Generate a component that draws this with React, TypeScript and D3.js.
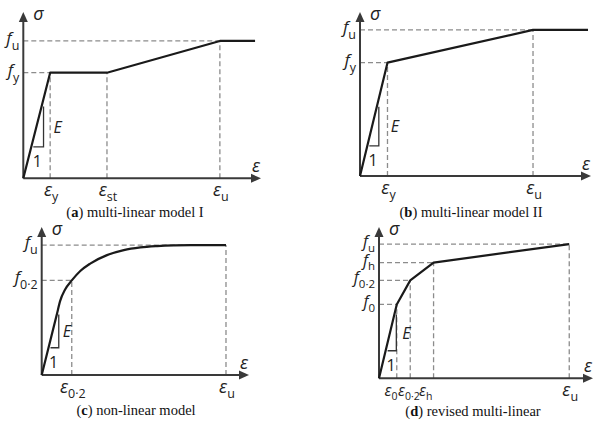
import React from "react";
import * as d3 from "d3";

// ---------- data (normalised strain / stress, 0..1 of axis length) ----------
// (a) multi-linear model I
const strainA = [0, 0.113, 0.352, 0.827, 0.975];
const stressA = [0, 0.635, 0.635, 0.826, 0.826];
const xTickA = [0.113, 0.352, 0.827];
const xTickStressA = [0.635, 0.635, 0.826];
const xTickSubA = ["y", "st", "u"];
const yTickA = [0.635, 0.826];
const yTickStrainA = [0.113, 0.827];
const yTickSubA = ["y", "u"];

// (b) multi-linear model II
const strainB = [0, 0.119, 0.749, 0.987];
const stressB = [0, 0.691, 0.891, 0.891];
const xTickB = [0.119, 0.749];
const xTickStressB = [0.691, 0.891];
const xTickSubB = ["y", "u"];
const yTickB = [0.691, 0.891];
const yTickStrainB = [0.119, 0.749];
const yTickSubB = ["y", "u"];

// (c) non-linear model
const strainC = [0, 0.0727, 0.0887, 0.113, 0.145, 0.186, 0.234, 0.315, 0.396, 0.476, 0.557, 0.638, 0.72, 0.889];
const stressC = [0, 0.408, 0.499, 0.578, 0.639, 0.703, 0.753, 0.81, 0.844, 0.862, 0.871, 0.876, 0.878, 0.878];
const xTickC = [0.145, 0.889];
const xTickStressC = [0.639, 0.878];
const xTickSubC = ["0·2", "u"];
const yTickC = [0.639, 0.878];
const yTickStrainC = [0.145, 0.889];
const yTickSubC = ["0·2", "u"];

// (d) revised multi-linear
const strainD = [0, 0.083, 0.146, 0.255, 0.889];
const stressD = [0, 0.488, 0.647, 0.765, 0.887];
const xTickD = [0.083, 0.146, 0.255, 0.889];
const xTickStressD = [0.488, 0.647, 0.765, 0.887];
const xTickSubD = ["0", "0·2", "h", "u"];
const yTickD = [0.488, 0.647, 0.765, 0.887];
const yTickStrainD = [0.083, 0.146, 0.255, 0.889];
const yTickSubD = ["0", "0·2", "h", "u"];

const captionLetters = ["a", "b", "c", "d"];
const captionTexts = [" multi-linear model I", " multi-linear model II", " non-linear model", " revised multi-linear"];

// ---------- layout ----------
type Layout = {
  ox: number; oy: number; tipX: number; topY: number;
  triTop: number; triBottom: number; eDx: number;
  capX: number; capY: number;
  xLabelX?: (number | null)[];
  epsSize?: number; subSize?: number;
  fSize?: number; fSub?: number; fDy?: number;
};

const layouts: Layout[] = [
  { ox: 23.3, oy: 178.3, tipX: 261, topY: 12, triTop: 0.431, triBottom: 0.189, eDx: 10, capX: 135, capY: 217 },
  { ox: 360, oy: 176, tipX: 591, topY: 12, triTop: 0.423, triBottom: 0.184, eDx: 12, capX: 471, capY: 217 },
  { ox: 41.7, oy: 375, tipX: 249, topY: 227, triTop: 0.408, triBottom: 0.184, eDx: 4, capX: 136, capY: 415 },
  {
    ox: 379, oy: 378.3, tipX: 593, topY: 227, triTop: 0.421, triBottom: 0.182, eDx: 6, capX: 473, capY: 416,
    xLabelX: [384.5, 398, 419, null], epsSize: 15.5, subSize: 10.5,
    fSize: 16, fSub: 11.5, fDy: 4.5,
  },
];

const SANS = "'Open Sans', 'DejaVu Sans', sans-serif";
const SERIF = "'Liberation Serif', 'DejaVu Serif', serif";
const AXIS = "#3a3a3a";
const DASH = "#8c8c8c";

type PanelProps = {
  idx: number;
  strain: number[]; stress: number[];
  xTick: number[]; xTickStress: number[]; xTickSub: string[];
  yTick: number[]; yTickStrain: number[]; yTickSub: string[];
  smooth?: boolean;
};

function Panel(p: PanelProps) {
  const L = layouts[p.idx];
  const x = d3.scaleLinear().domain([0, 1]).range([L.ox, L.tipX]);
  const y = d3.scaleLinear().domain([0, 1]).range([L.oy, L.topY]);
  const pts: [number, number][] = p.strain.map((e, i) => [e, p.stress[i]]);
  const line = d3
    .line<[number, number]>()
    .x((d) => x(d[0]))
    .y((d) => y(d[1]))
    .curve(p.smooth ? d3.curveMonotoneX : d3.curveLinear);

  // elastic slope triangle
  const e1 = p.strain[1], s1 = p.stress[1];
  const lineStrainAt = (s: number) => (e1 * s) / s1;
  const off = 2;
  const vx = x(lineStrainAt(L.triTop)) + off;
  const hy = y(L.triBottom);
  const hx0 = x(lineStrainAt(L.triBottom)) + off;
  const triMidY = (y(L.triTop) + hy) / 2;

  const epsSize = L.epsSize ?? 18;
  const subSize = L.subSize ?? 12.5;
  const fSize = L.fSize ?? 17;
  const fSub = L.fSub ?? 12.5;
  const fDy = L.fDy ?? 6;

  const ah = 10, aw = 4.5;
  return (
    <g>
      {/* dashed guides */}
      {p.xTick.map((e, i) => (
        <line key={"vx" + i} x1={x(e)} x2={x(e)} y1={L.oy} y2={y(p.xTickStress[i])}
          stroke={DASH} strokeWidth={1.3} strokeDasharray="5,3" />
      ))}
      {p.yTick.map((s, i) => (
        <line key={"hy" + i} x1={L.ox} x2={x(p.yTickStrain[i])} y1={y(s)} y2={y(s)}
          stroke={DASH} strokeWidth={1.3} strokeDasharray="5,3" />
      ))}
      {/* axes */}
      <line x1={L.ox} x2={L.tipX - ah + 1} y1={L.oy} y2={L.oy} stroke={AXIS} strokeWidth={2} />
      <line x1={L.ox} x2={L.ox} y1={L.oy} y2={L.topY + ah - 1} stroke={AXIS} strokeWidth={2} />
      <polygon points={`${L.tipX},${L.oy} ${L.tipX - ah},${L.oy - aw} ${L.tipX - ah},${L.oy + aw}`} fill={AXIS} />
      <polygon points={`${L.ox},${L.topY} ${L.ox - aw},${L.topY + ah} ${L.ox + aw},${L.topY + ah}`} fill={AXIS} />
      {/* curve */}
      <path d={line(pts) || ""} fill="none" stroke="#1a1a1a" strokeWidth={2.2} strokeLinejoin="round" />
      {/* triangle */}
      <polyline points={`${hx0},${hy} ${vx},${hy} ${vx},${y(L.triTop)}`} fill="none" stroke="#333" strokeWidth={1.3} />
      <text x={vx + L.eDx} y={triMidY + 6} fontFamily={SANS} fontStyle="italic" fontSize={16} fill="#222">E</text>
      <text x={(hx0 + vx) / 2 - 1} y={hy + 20} fontFamily={SANS} fontSize={16} fill="#222" textAnchor="middle">1</text>
      {/* axis names */}
      <text x={L.ox + 10} y={L.topY + 8} fontFamily={SANS} fontStyle="italic" fontSize={18} fill="#222">σ</text>
      <text x={L.tipX - 9} y={L.oy - 6} fontFamily={SANS} fontStyle="italic" fontSize={18} fill="#222">ε</text>
      {/* x tick labels */}
      {p.xTick.map((e, i) => {
        const custom = L.xLabelX && L.xLabelX[i] != null;
        const fx = custom ? (L.xLabelX![i] as number) : x(e) + 1;
        const anchor = custom ? "start" : "middle";
        const es = custom ? epsSize : 18;
        const ss = custom ? subSize : 12.5;
        return (
          <text key={"xl" + i} x={fx} y={L.oy + 18} textAnchor={anchor} fontFamily={SANS} fill="#222">
            <tspan fontStyle="italic" fontSize={es}>ε</tspan>
            <tspan fontSize={ss} dy={custom ? 4 : 5}>{p.xTickSub[i]}</tspan>
          </text>
        );
      })}
      {/* y tick labels */}
      {p.yTick.map((s, i) => (
        <text key={"yl" + i} x={L.ox - 4} y={y(s) + 3} textAnchor="end" fontFamily={SANS} fill="#222">
          <tspan fontStyle="italic" fontSize={fSize}>f</tspan>
          <tspan fontSize={fSub} dy={fDy}>{p.yTickSub[i]}</tspan>
        </text>
      ))}
      {/* caption */}
      <text x={L.capX} y={L.capY} textAnchor="middle" fontFamily={SERIF} fontSize={14.5} fill="#111">
        (<tspan fontWeight="bold">{captionLetters[p.idx]}</tspan>){captionTexts[p.idx]}
      </text>
    </g>
  );
}

export default function App() {
  return (
    <svg width={600} height={425} style={{ position: "absolute", left: 0, top: 0, background: "#fff" }}>
      <rect width={600} height={425} fill="#fff" />
      <Panel idx={0} strain={strainA} stress={stressA} xTick={xTickA} xTickStress={xTickStressA} xTickSub={xTickSubA}
        yTick={yTickA} yTickStrain={yTickStrainA} yTickSub={yTickSubA} />
      <Panel idx={1} strain={strainB} stress={stressB} xTick={xTickB} xTickStress={xTickStressB} xTickSub={xTickSubB}
        yTick={yTickB} yTickStrain={yTickStrainB} yTickSub={yTickSubB} />
      <Panel idx={2} strain={strainC} stress={stressC} xTick={xTickC} xTickStress={xTickStressC} xTickSub={xTickSubC}
        yTick={yTickC} yTickStrain={yTickStrainC} yTickSub={yTickSubC} smooth />
      <Panel idx={3} strain={strainD} stress={stressD} xTick={xTickD} xTickStress={xTickStressD} xTickSub={xTickSubD}
        yTick={yTickD} yTickStrain={yTickStrainD} yTickSub={yTickSubD} />
    </svg>
  );
}
